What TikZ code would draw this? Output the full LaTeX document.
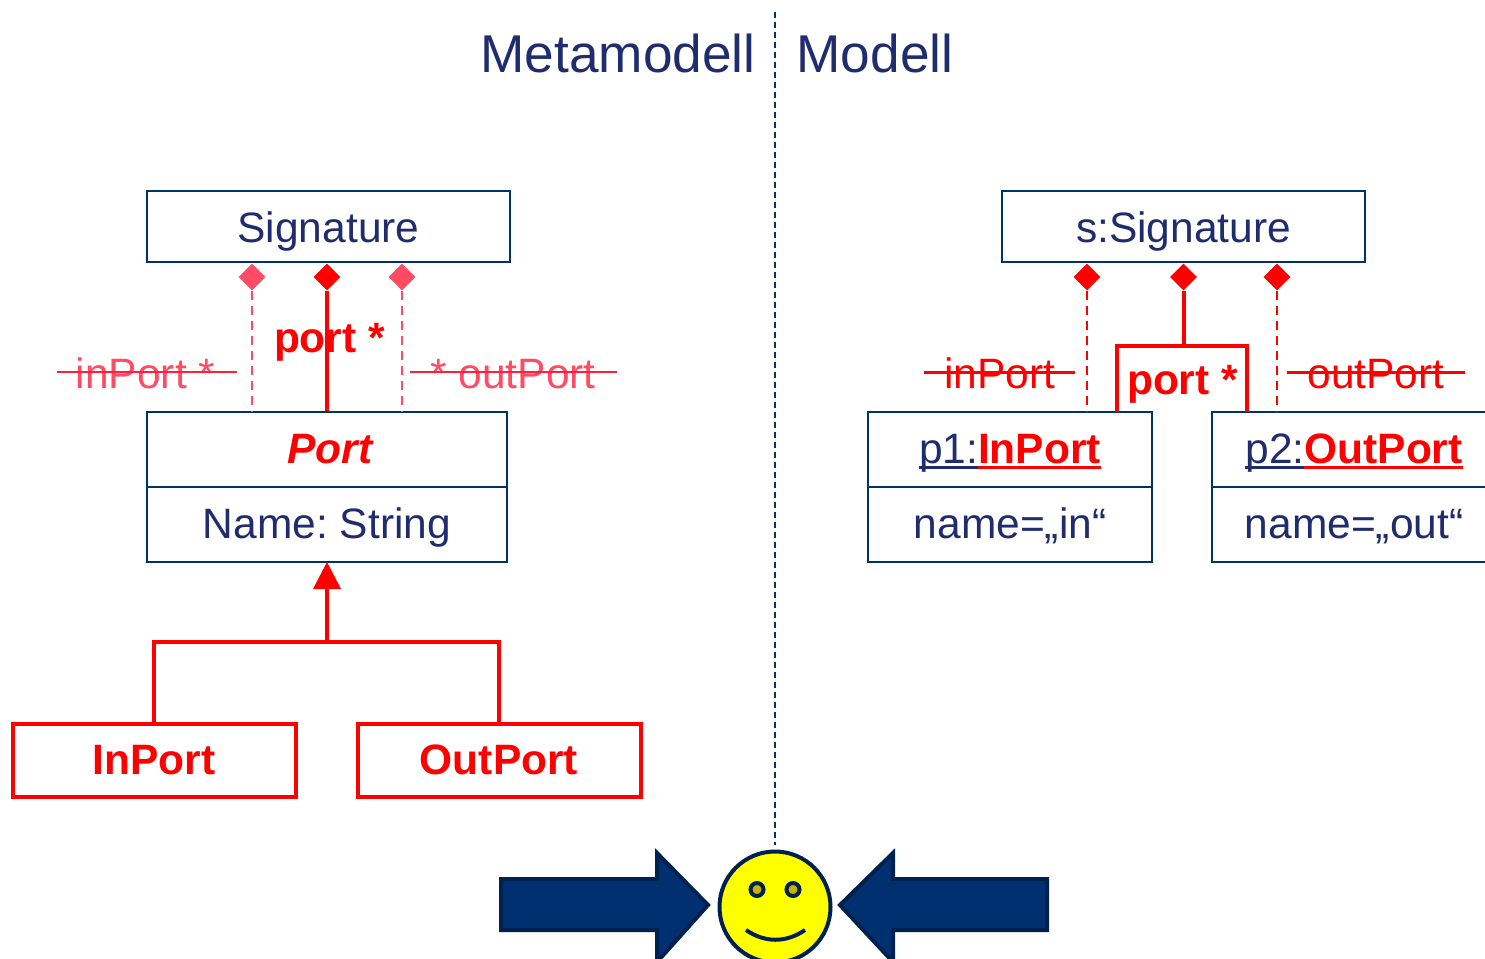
\documentclass[tikz,border=0pt]{standalone}
\usepackage{fontspec}
\setmainfont{Liberation Sans}
\usetikzlibrary{shapes.geometric,arrows.meta}
\definecolor{navytext}{HTML}{1F2D6E}
\definecolor{navyline}{HTML}{003366}
\definecolor{softred}{HTML}{FF4B63}
\definecolor{strikered}{HTML}{FF2040}
\definecolor{arrowfill}{HTML}{003070}
\definecolor{arrowedge}{HTML}{002050}
\definecolor{eyefill}{HTML}{C8B400}
\definecolor{faceyellow}{RGB}{255,255,0}
\newcommand{\ulpart}[1]{\sbox0{#1}\rlap{\rule[-6pt]{\wd0}{3pt}}\usebox0}
\frenchspacing
\tikzset{
  umlbox/.style={draw=navyline,line width=2pt,fill=white,inner sep=0pt,font=\fontsize{42.5}{42.5}\selectfont,text=navytext,text depth=0pt,text height=31pt},
  rowbox/.style={umlbox,minimum height=75pt,text height=27pt},
  redbox/.style={draw=red,line width=4pt,fill=white,inner sep=0pt,font=\fontsize{42.5}{42.5}\selectfont\bfseries,text=red,text depth=0pt,text height=27pt},
  lab/.style={inner sep=0pt,anchor=base,font=\fontsize{42.5}{42.5}\selectfont},
  title/.style={lab,font=\fontsize{53.2}{53.2}\selectfont,text=navytext},
  redlab/.style={lab,font=\fontsize{42.5}{42.5}\selectfont\bfseries,text=red},
  softlab/.style={lab,text=softred},
  strikelab/.style={lab,text=red},
  comp/.style={diamond,draw=none,fill=#1,inner sep=0pt,minimum width=27pt,minimum height=27pt},
  solidlink/.style={draw=red,line width=4pt},
  dashlink/.style={draw=#1,line width=2.5pt,dash pattern=on 9pt off 6pt},
  strike/.style={draw=#1,line width=2pt},
  bigarrow/.style={draw=arrowedge,fill=arrowfill,line width=4pt,miter limit=10},
  facepart/.style={draw=arrowedge,line width=4pt}
}
\begin{document}
\begin{tikzpicture}[x=1pt,y=-1pt]
\clip (0,0) rectangle (1485,958);
% divider
\coordinate (divtop) at (775,12);
\coordinate (divbot) at (775,845);
\draw[navyline,line width=1.6pt,dash pattern=on 6pt off 4pt] (divtop) -- (divbot);
\node[title] (tmeta) at (618,72) {Metamodell};
\node[title] (tmodel) at (875,72) {Modell};
% left boxes
\node[umlbox,minimum width=363pt,minimum height=71pt] (sig) at (328.5,226.5) {Signature};
\node[rowbox,minimum width=360pt] (port) at (327,449.5) {\hspace{6pt}\textcolor{red}{\bfseries\itshape Port}};
\node[rowbox,minimum width=360pt] (portattr) at (327,524.5) {Name: String};
\node[redbox,minimum width=283pt,minimum height=73pt] (inport) at (154,760.5) {InPort};
\node[redbox,minimum width=283pt,minimum height=73pt] (outport) at (499,760.5) {OutPort};
% left diamonds
\node[comp=softred] (ld1) at (252,277) {};
\node[comp=red] (ld2) at (327,277) {};
\node[comp=softred] (ld3) at (402,277) {};
\draw[dashlink=softred] (ld1.south) -- (ld1.south |- port.north);
\draw[solidlink] (ld2.south) -- (ld2.south |- port.north);
\draw[dashlink=softred] (ld3.south) -- (ld3.south |- port.north);
\node[redlab] (lport) at (329.5,352) {port *};
\node[softlab] (linport) at (145.5,388) {inPort *};
\node[softlab] (loutport) at (513,388) {* outPort};
\coordinate (ls1a) at (57,372); \coordinate (ls1b) at (237,372);
\coordinate (ls2a) at (410,372); \coordinate (ls2b) at (617,372);
\draw[strike=strikered] (ls1a) -- (ls1b);
\draw[strike=strikered] (ls2a) -- (ls2b);
% generalisation
\coordinate (genbase) at (327,588);
\coordinate (genjoin) at (327,642);
\draw[solidlink] (inport.north) |- (genjoin) -| (outport.north);
\draw[solidlink] (genjoin) -- (genbase);
\fill[red] (portattr.south) ++(0,-1) -- (341,589) -- (313,589) -- cycle;
% right boxes
\node[umlbox,minimum width=363pt,minimum height=71pt] (ssig) at (1183.5,226.5) {s:Signature};
\node[rowbox,minimum width=284pt] (p1) at (1010,449.5) {\ulpart{p1:}\textcolor{red}{\bfseries\ulpart{InPort}}};
\node[rowbox,minimum width=284pt] (p1attr) at (1010,524.5) {name=„in“};
\node[rowbox,minimum width=284pt] (p2) at (1354,449.5) {\ulpart{p2:}\textcolor{red}{\bfseries\ulpart{OutPort}}};
\node[rowbox,minimum width=284pt] (p2attr) at (1354,524.5) {name=„out“};
% right diamonds
\node[comp=red] (rd1) at (1087,277) {};
\node[comp=red] (rd2) at (1183.5,277) {};
\node[comp=red] (rd3) at (1277,277) {};
\draw[dashlink=red] (rd1.south) -- (rd1.south |- p1.north);
\draw[dashlink=red] (rd3.south) -- (rd3.south |- p2.north);
\coordinate (rjoin) at (1183.5,346);
\coordinate (rleft) at (1116.5,412);
\coordinate (rright) at (1246.5,412);
\draw[solidlink] (rd2.south) -- (rjoin);
\draw[solidlink] (rleft) |- (rjoin) -| (rright);
\node[redlab] (rport) at (1182.5,394) {port *};
\node[strikelab] (rinport) at (1000,388) {inPort};
\node[strikelab] (routport) at (1376,388) {outPort};
\coordinate (rs1a) at (924,372); \coordinate (rs1b) at (1075,372);
\coordinate (rs2a) at (1287,372); \coordinate (rs2b) at (1465,372);
\draw[strike=red,line width=3pt] (rs1a) -- (rs1b);
\draw[strike=red,line width=3pt] (rs2a) -- (rs2b);
% block arrows
\draw[bigarrow] (501,879) -- (657,879) -- (657,853) -- (708,905) -- (657,962) -- (657,930) -- (501,930) -- cycle;
\draw[bigarrow] (1047,879) -- (893,879) -- (893,853) -- (840,905) -- (893,962) -- (893,930) -- (1047,930) -- cycle;
% smiley
\draw[facepart,fill=faceyellow] (775,907) circle[radius=55.5];
\draw[facepart,fill=eyefill] (757,889.5) circle[radius=6.5];
\draw[facepart,fill=eyefill] (793,889.5) circle[radius=6.5];
\draw[facepart] (746,930) .. controls (765,943) and (786,943) .. (805,930);
\end{tikzpicture}
\end{document}
